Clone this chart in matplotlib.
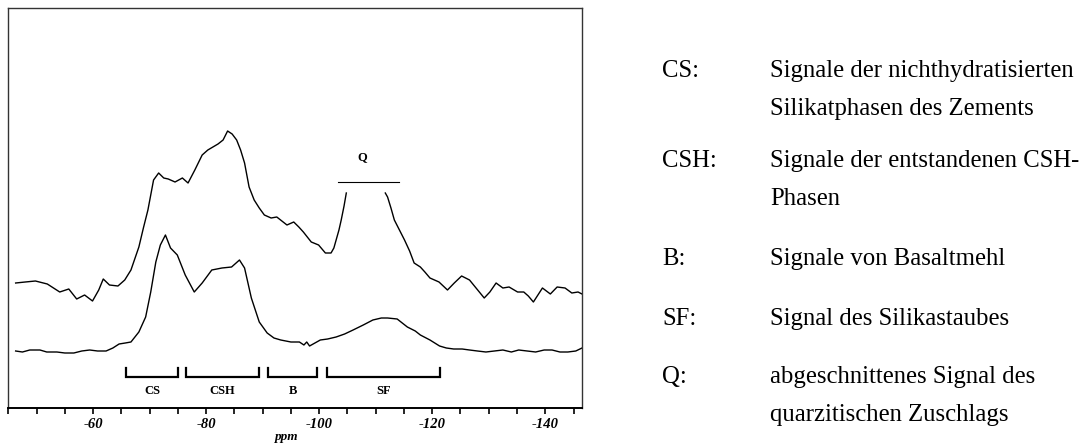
import numpy as np
import matplotlib
matplotlib.use("Agg")
import matplotlib.pyplot as plt

plt.rcParams['font.family'] = ['Liberation Serif', 'DejaVu Serif']
plt.rcParams['axes.unicode_minus'] = False

# upper spectrum (gap = clipped quartz signal Q)
upper_ppm = [-46.3, -48.0, -49.8, -51.9, -53.0, -54.1, -55.7, -57.1, -58.5, -59.9,
             -61.0, -61.8, -62.9, -64.4, -65.6, -66.7, -68.1, -68.9, -69.7, -70.7,
             -71.6, -72.5, -73.3, -74.5, -75.8, -76.8, -78.0, -79.3, -80.3, -82.1,
             -83.0, -83.8, -84.6, -85.4, -86.1, -86.8, -87.6, -88.5, -89.4, -90.3,
             -91.5, -92.5, -93.4, -94.3, -95.5, -96.4, -97.2, -98.6, -99.9, -101.1,
             -102.1, -102.6, -103.0, -103.5, -103.9, -104.4, -104.8, -108.0, -111.7,
             -112.1, -112.7, -113.3, -114.2, -115.1, -116.0, -116.8, -117.9, -118.7,
             -119.6, -121.2, -122.7, -123.9, -125.2, -126.6, -127.9, -129.2, -130.2,
             -131.3, -132.5, -133.6, -135.1, -136.2, -137.0, -137.9, -138.7, -139.5,
             -140.9, -142.1, -143.5, -144.7, -145.8, -146.5]
upper_int = [125, 126, 127, 124, 120, 116, 119, 109, 113, 107,
             118, 129, 123, 122, 128, 138, 161, 180, 198, 228,
             235, 230, 229, 226, 230, 225, 238, 253, 258, 264,
             268, 277, 274, 268, 258, 245, 221, 208, 200, 193,
             190, 191, 187, 183, 186, 181, 176, 166, 163, 155,
             155, 160, 168, 178, 188, 202, 215, np.nan, 215,
             211, 200, 188, 178, 168, 157, 145, 141, 136,
             130, 126, 118, 125, 132, 128, 119, 110, 116,
             125, 120, 121, 116, 116, 112, 106, 113, 120,
             114, 121, 120, 115, 116, 114]

# lower spectrum
lower_ppm = [-46.3, -47.5, -48.8, -50.6, -51.8, -53.6, -55.0, -56.6, -58.0, -59.4,
             -60.8, -62.3, -63.5, -64.6, -65.7, -66.7, -68.1, -69.3, -70.2, -71.1,
             -71.9, -72.8, -73.7, -74.9, -76.3, -77.9, -79.3, -81.0, -82.8, -84.5,
             -85.9, -86.8, -88.0, -89.4, -90.8, -92.0, -93.2, -95.0, -96.5, -97.3,
             -97.8, -98.3, -100.2, -101.5, -103.0, -104.5, -106.0, -107.8, -109.5,
             -111.0, -112.1, -113.8, -115.6, -117.0, -117.9, -119.6, -121.3, -122.5,
             -123.8, -125.3, -126.6, -128.0, -129.5, -131.0, -132.5, -134.0, -135.3,
             -136.8, -138.3, -139.8, -141.2, -142.6, -144.0, -145.4, -146.5]
lower_int = [57, 56, 58, 58, 56, 56, 55, 55, 57, 58,
             57, 57, 60, 64, 65, 66, 76, 91, 116, 146,
             163, 173, 160, 153, 133, 116, 125, 138, 140, 141,
             148, 140, 110, 86, 75, 70, 68, 66, 66, 63,
             66, 62, 68, 69, 71, 74, 78, 83, 88,
             90, 90, 89, 81, 77, 73, 68, 62, 60,
             59, 59, 58, 57, 56, 57, 58, 56, 58,
             57, 56, 58, 58, 56, 56, 57, 60]

# assignment brackets
region_names = ['CS', 'CSH', 'B', 'SF']
region_start = [-65.9, -76.5, -91.0, -101.4]
region_end = [-75.0, -89.3, -99.7, -121.4]

q_start, q_end = -103.4, -114.2
q_label_ppm = -107.7

tick_values = list(range(-45, -150, -5))
label_values = [-60, -80, -100, -120, -140]

legend_keys = ['CS:', 'CSH:', 'B:', 'SF:', 'Q:']
legend_text = [['Signale der nichthydratisierten', 'Silikatphasen des Zements'],
               ['Signale der entstandenen CSH-', 'Phasen'],
               ['Signale von Basaltmehl'],
               ['Signal des Silikastaubes'],
               ['abgeschnittenes Signal des', 'quarzitischen Zuschlags']]
legend_base = [77, 167, 265, 325, 383]

W, H = 1085, 444
fig = plt.figure(figsize=(W / 100, H / 100), dpi=100)
ax = fig.add_axes([8.3 / W, 1 - 408 / H, (582 - 8.3) / W, 400 / H])

ax.plot(upper_ppm, upper_int, color='black', lw=1.0)
ax.plot(lower_ppm, lower_int, color='black', lw=1.0)

# brackets
for name, a, b in zip(region_names, region_start, region_end):
    ax.plot([a, a, b, b], [40, 31, 31, 40], color='black', lw=1.6, solid_joinstyle='miter')
    ax.text((a + b) / 2, 17, name, ha='center', va='center', fontsize=9, fontweight='bold')

ax.plot([q_start, q_end], [226, 226], color='black', lw=0.8)
ax.text(q_label_ppm, 251, 'Q', ha='center', va='center', fontsize=9, fontweight='bold')

ax.set_xlim(-46.3, -146.5)
ax.set_ylim(0, 400)
ax.set_yticks([])
ax.set_xticks(tick_values)
ax.set_xticklabels([str(v) if v in label_values else '' for v in tick_values],
                   fontsize=10.5, fontweight='bold', fontstyle='italic')
ax.tick_params(axis='x', direction='out', length=4, width=1.2, pad=3)
ax.set_xlabel('ppm', fontsize=9.5, fontstyle='italic', fontweight='bold')
ax.xaxis.set_label_coords(0.486, -0.057)
for s in ax.spines.values():
    s.set_color('#333333')
    s.set_linewidth(1.0)
ax.spines['bottom'].set_linewidth(1.4)
ax.spines['bottom'].set_color('black')

# explanation text on the right
for key, lines, y in zip(legend_keys, legend_text, legend_base):
    fig.text(662 / W, 1 - y / H, key, ha='left', va='baseline', fontsize=17.8)
    for i, line in enumerate(lines):
        fig.text(770 / W, 1 - (y + 38 * i) / H, line, ha='left', va='baseline', fontsize=17.8)

fig.savefig('out.png', dpi=100)
